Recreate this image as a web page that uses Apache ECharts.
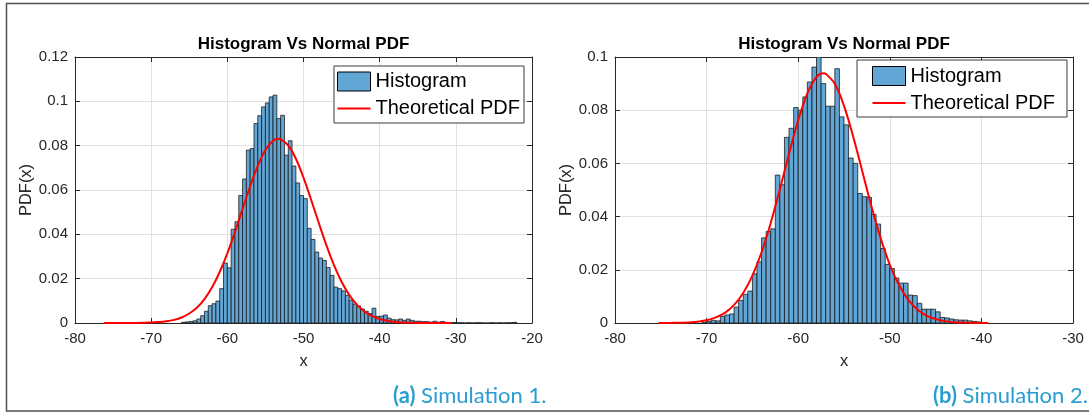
<!DOCTYPE html>
<html><head><meta charset="utf-8">
<script src="https://cdn.jsdelivr.net/npm/echarts@6/dist/echarts.min.js"></script>
<style>html,body{margin:0;padding:0;background:#fff}#c{width:1089px;height:414px}</style>
</head><body><div id="c"></div>
<script>
// ---------- DATA ----------
const chartTitle = 'Histogram Vs Normal PDF';
const xName = 'x';
const yName = 'PDF(x)';
const legendNames = ['Histogram', 'Theoretical PDF'];
const captions = [['(a)', ' Simulation 1.'], ['(b)', ' Simulation 2.']];

// Simulation 1 histogram (bins of 0.5 starting at -66)
const leftBinStart = -66;
const leftBinWidth = 0.5;
const leftHeights = [
  0.0003, 0.0005, 0.0007, 0.001, 0.0018, 0.0033, 0.0053, 0.0078, 0.0087, 0.0099,
  0.0155, 0.027, 0.0249, 0.0423, 0.0457, 0.0575, 0.065, 0.078, 0.0787, 0.09,
  0.0935, 0.0975, 0.0993, 0.102, 0.1028, 0.0922, 0.0937, 0.0757, 0.0822, 0.0708,
  0.0632, 0.0575, 0.0561, 0.0427, 0.0377, 0.032, 0.0293, 0.0282, 0.025, 0.0215,
  0.0162, 0.0155, 0.0145, 0.0125, 0.0103, 0.0085, 0.0077, 0.0063, 0.0053, 0.0043,
  0.0067, 0.003, 0.0031, 0.0036, 0.0022, 0.0015, 0.0014, 0.0018, 0.0012, 0.0018,
  0.0012, 0.0008, 0.0008, 0.0006, 0.0006, 0.0004, 0.0008, 0.0004, 0.0007, 0.0003,
  0.0002, 0.0002, 0.0001, 0.0001, 0, 0.0001, 0, 0.0001, 0.0001, 0,
  0, 0.0001, 0, 0.0001, 0, 0.0001, 0.0001, 0.0003
];
// Simulation 2 histogram (bins of 0.5 starting at -70.5)
const rightBinStart = -70.5;
const rightBinWidth = 0.5;
const rightHeights = [
  0.0003, 0.0006, 0.001, 0.0008, 0.0025, 0.003, 0.0034, 0.006, 0.0085, 0.0108,
  0.012, 0.0185, 0.023, 0.032, 0.0344, 0.0354, 0.0556, 0.052, 0.0698, 0.0732,
  0.081, 0.08, 0.085, 0.0906, 0.0962, 0.1, 0.09, 0.0815, 0.0815, 0.0956,
  0.0775, 0.0745, 0.062, 0.06, 0.0487, 0.0475, 0.0473, 0.0408, 0.0372, 0.028,
  0.022, 0.0205, 0.0169, 0.015, 0.015, 0.0105, 0.0103, 0.0074, 0.0052, 0.0052,
  0.0052, 0.0042, 0.0021, 0.0019, 0.0015, 0.0012, 0.0011, 0.0011, 0.0008, 0.0006,
  0.0004
];
// Theoretical PDF curves
const leftCurveX = [-76.2, -74, -72, -70, -69, -68, -67, -66, -65, -64, -63, -62, -61, -60, -59, -58, -57, -56, -55, -54, -53.3, -53, -52, -51, -50, -49, -48, -47, -46, -45, -44, -43, -42, -41, -40, -39, -38, -36, -34, -32, -30.5];
const leftCurveY = [0, 0.00001, 0.00004, 0.0002, 0.0004, 0.00076, 0.0014, 0.0025, 0.0043, 0.0069, 0.0108, 0.0161, 0.023, 0.0314, 0.0411, 0.0515, 0.0617, 0.0709, 0.078, 0.0822, 0.0831, 0.0829, 0.0801, 0.0741, 0.0656, 0.0556, 0.0452, 0.0351, 0.0261, 0.0186, 0.0127, 0.0083, 0.0052, 0.0031, 0.0018, 0.001, 0.0005, 0.00013, 0.00003, 0, 0];
const rightCurveX = [-75.25, -74, -72, -71, -70, -69, -68, -67, -66, -65, -64, -63, -62, -61, -60, -59, -58, -57.25, -57, -56, -55, -54, -53, -52, -51, -50, -49, -48, -47, -46, -45, -44, -43, -42, -40, -39.25];
const rightCurveY = [0, 0.00004, 0.0002, 0.0005, 0.001, 0.0021, 0.0038, 0.0068, 0.0113, 0.0178, 0.0266, 0.0376, 0.0503, 0.0636, 0.0762, 0.0863, 0.0925, 0.0939, 0.0937, 0.0899, 0.0816, 0.0701, 0.057, 0.0438, 0.0319, 0.0219, 0.0143, 0.0088, 0.0051, 0.0028, 0.0015, 0.0007, 0.0003, 0.00015, 0.00002, 0];

const leftXAxis = {min: -80, max: -20, interval: 10};
const leftYAxis = {min: 0, max: 0.12, interval: 0.02};
const rightXAxis = {min: -80, max: -30, interval: 10};
const rightYAxis = {min: 0, max: 0.1, interval: 0.02};

// ---------- STYLE ----------
const FONT = '"Liberation Sans", Arial, Helvetica, sans-serif';
const AX = '#262626';
const GRIDC = '#e1e1e1';
const BARC = '#62a6d5';
const CAPC = '#2a9dd3';
const LINE_ICON = 'path://M0,0L0,0M0,8.5L33,8.5L33,10.5L0,10.5ZM33,19L33,19';

function yFmt(v) { return v === 0 ? '0' : String(+v.toFixed(3)); }

function xAxisPair(gi, cfg) {
  const base = {type: 'value', gridIndex: gi, min: cfg.min, max: cfg.max, interval: cfg.interval,
    axisLine: {show: true, onZero: false, lineStyle: {color: AX, width: 1}},
    axisTick: {show: true, inside: true, length: 5, lineStyle: {color: AX, width: 1}}};
  return [
    Object.assign({}, base, {position: 'bottom',
      axisLabel: {show: true, margin: 8, fontSize: 15, color: AX, fontFamily: FONT, showMinLabel: true, showMaxLabel: true},
      splitLine: {show: true, lineStyle: {color: GRIDC, width: 1}},
      name: xName, nameLocation: 'middle', nameGap: 30,
      nameTextStyle: {fontSize: 16.5, color: AX, fontFamily: FONT}}),
    Object.assign({}, base, {position: 'top', axisLabel: {show: false}, splitLine: {show: false}})
  ];
}
function yAxisPair(gi, cfg) {
  const base = {type: 'value', gridIndex: gi, min: cfg.min, max: cfg.max, interval: cfg.interval,
    axisLine: {show: true, onZero: false, lineStyle: {color: AX, width: 1}},
    axisTick: {show: true, inside: true, length: 5, lineStyle: {color: AX, width: 1}}};
  return [
    Object.assign({}, base, {position: 'left',
      axisLabel: {show: true, margin: 7, fontSize: 15, color: AX, fontFamily: FONT, formatter: yFmt, showMinLabel: true, showMaxLabel: true},
      splitLine: {show: true, lineStyle: {color: GRIDC, width: 1}},
      name: yName, nameLocation: 'middle', nameGap: 39, nameRotate: 90,
      nameTextStyle: {fontSize: 16.5, color: AX, fontFamily: FONT}}),
    Object.assign({}, base, {position: 'right', axisLabel: {show: false}, splitLine: {show: false}})
  ];
}

function histSeries(start, width, heights, xi, yi) {
  const data = heights.map((h, i) => [start + i * width, start + (i + 1) * width, h]);
  return {
    type: 'custom', name: legendNames[0], xAxisIndex: xi, yAxisIndex: yi, data: data,
    encode: {x: [0, 1], y: 2}, clip: true, z: 2,
    itemStyle: {color: BARC, borderColor: '#000', borderWidth: 1},
    renderItem: function (params, api) {
      const p0 = api.coord([api.value(0), api.value(2)]);
      const p1 = api.coord([api.value(1), 0]);
      return {type: 'rect',
        shape: {x: p0[0], y: p0[1], width: p1[0] - p0[0], height: p1[1] - p0[1]},
        style: {fill: BARC, stroke: '#141414', lineWidth: 0.75}};
    }
  };
}
function curveSeries(xs, ys, xi, yi) {
  return {type: 'line', name: legendNames[1], xAxisIndex: xi, yAxisIndex: yi,
    data: xs.map((x, i) => [x, ys[i]]), symbol: 'none', showSymbol: false,
    smooth: 0.35, clip: true, z: 5,
    lineStyle: {color: '#ff0000', width: 2}, itemStyle: {color: '#ff0000'}};
}

function legendAt(left, top, padding) {
  return {orient: 'vertical', left: left, top: top, itemWidth: 33, itemHeight: 19, itemGap: 7,
    padding: padding, borderColor: '#3a3a3a', borderWidth: 1, backgroundColor: '#fff',
    selectedMode: false, textStyle: {fontSize: 20, color: '#000', fontFamily: FONT},
    data: [
      {name: legendNames[0], icon: 'rect', itemStyle: {color: BARC, borderColor: '#000', borderWidth: 1}},
      {name: legendNames[1], icon: LINE_ICON, itemStyle: {color: '#ff0000', borderWidth: 0}}
    ]};
}

const [lx0, lx1] = xAxisPair(0, leftXAxis);
const [rx0, rx1] = xAxisPair(1, rightXAxis);
const [ly0, ly1] = yAxisPair(0, leftYAxis);
const [ry0, ry1] = yAxisPair(1, rightYAxis);

const chart = echarts.init(document.getElementById('c'), null, {renderer: 'canvas'});
chart.setOption({
  animation: false,
  backgroundColor: '#fff',
  textStyle: {fontFamily: FONT},
  grid: [
    {left: 75, right: 557, top: 57, bottom: 91, outerBoundsMode: 'none', containLabel: false},
    {left: 615, right: 16, top: 57, bottom: 91, outerBoundsMode: 'none', containLabel: false}
  ],
  xAxis: [lx0, lx1, rx0, rx1],
  yAxis: [ly0, ly1, ry0, ry1],
  legend: [legendAt(334, 66, [5.5, 4, 4.5, 3]), legendAt(857, 60, [6, 12, 4, 15])],
  series: [
    histSeries(leftBinStart, leftBinWidth, leftHeights, 0, 0),
    curveSeries(leftCurveX, leftCurveY, 0, 0),
    histSeries(rightBinStart, rightBinWidth, rightHeights, 2, 2),
    curveSeries(rightCurveX, rightCurveY, 2, 2)
  ],
  graphic: [
    {type: 'rect', silent: true, z: 100, shape: {x: 6.5, y: 3.5, width: 1100, height: 407.5},
      style: {fill: 'none', stroke: '#505050', lineWidth: 1.5}},
    {type: 'text', x: 303.5, y: 44, z: 100, style: {text: chartTitle, align: 'center', verticalAlign: 'middle',
      fontSize: 17, fontWeight: 'bold', fontFamily: FONT, fill: '#000'}},
    {type: 'text', x: 844, y: 44, z: 100, style: {text: chartTitle, align: 'center', verticalAlign: 'middle',
      fontSize: 17, fontWeight: 'bold', fontFamily: FONT, fill: '#000'}},
    {type: 'text', x: 393, y: 396, z: 100, style: {text: '{b|' + captions[0][0] + '}' + captions[0][1],
      verticalAlign: 'middle', align: 'left', fontSize: 22, fontFamily: 'Lato', fill: CAPC,
      rich: {b: {fontWeight: 'bold', fontSize: 22, fontFamily: 'Lato', fill: CAPC}}}},
    {type: 'text', x: 933, y: 396, z: 100, style: {text: '{b|' + captions[1][0] + '}' + captions[1][1],
      verticalAlign: 'middle', align: 'left', fontSize: 22, fontFamily: 'Lato', fill: CAPC,
      rich: {b: {fontWeight: 'bold', fontSize: 22, fontFamily: 'Lato', fill: CAPC}}}}
  ]
});
</script>
</body></html>
